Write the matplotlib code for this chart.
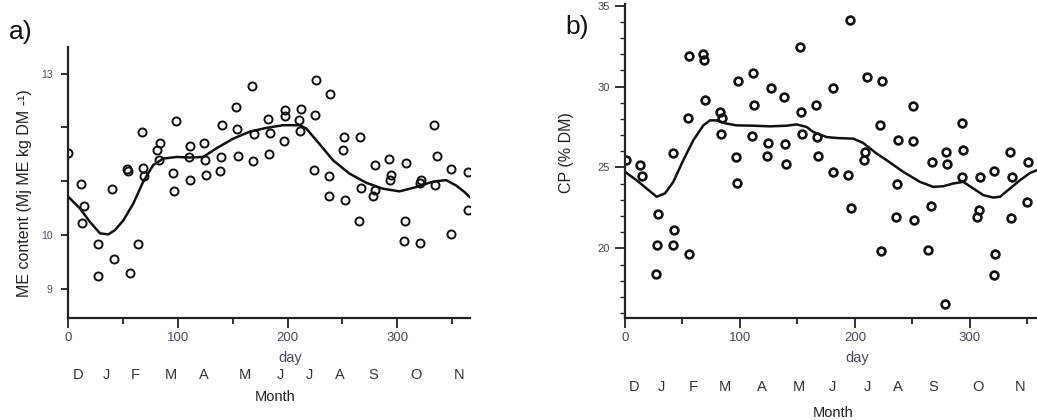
import matplotlib
matplotlib.use("Agg")
import matplotlib.pyplot as plt
from matplotlib.ticker import MultipleLocator, FixedLocator, NullFormatter
import matplotlib.transforms as mtransforms

# ---------------- data ----------------
months = ["D", "J", "F", "M", "A", "M", "J", "J", "A", "S", "O", "N"]
month_day_a = [9, 35, 61.5, 93.5, 124, 161, 193.5, 220, 248, 277.5, 317, 356]
month_day_b = [8, 32, 59, 87, 119, 151, 180.6, 210.4, 237, 268, 306.7, 343.5]

me_day = [0.6, 12.1, 14.8, 12.7, 27.2, 27.2, 40.3, 42.1, 53.6, 54.5, 56.6, 63.6,
          67.8, 68.7, 69.3, 81.1, 84.2, 82.7, 98.1, 96.0, 96.9, 111.0, 110.5, 111.7,
          124.1, 125.3, 126.2, 140.8, 139.6, 138.4, 153.5, 154.4, 155.0, 168.0, 169.8,
          168.9, 182.3, 183.8, 183.2, 198.0, 197.4, 196.5, 212.5, 210.4, 211.0, 225.5,
          225.0, 223.7, 238.9, 237.4, 237.7, 251.3, 250.4, 252.2, 265.5, 266.4, 264.6,
          279.4, 280.0, 278.2, 292.2, 294.0, 292.8, 307.9, 306.7, 305.8, 321.5, 320.9,
          320.9, 333.6, 335.8, 334.5, 349.1, 348.5, 364.0, 364.2]
me_val = [11.53, 10.94, 10.54, 10.22, 9.83, 9.23, 10.86, 9.56, 11.23, 11.19, 9.30, 9.84,
          11.92, 11.25, 11.10, 11.58, 11.71, 11.39, 12.12, 11.15, 10.82, 11.66, 11.44, 11.02,
          11.71, 11.39, 11.12, 12.04, 11.44, 11.19, 12.38, 11.97, 11.46, 12.77, 11.87,
          11.38, 12.16, 11.90, 11.50, 12.32, 12.22, 11.74, 12.35, 12.13, 11.93, 12.88,
          12.23, 11.21, 12.62, 11.09, 10.72, 11.82, 11.57, 10.65, 11.82, 10.88, 10.26,
          11.30, 10.84, 10.73, 11.41, 11.12, 11.02, 11.34, 10.26, 9.89, 11.02, 10.97,
          9.85, 12.05, 11.46, 10.92, 11.22, 10.01, 11.17, 10.47]

me_fit_day = [0, 11.2, 20.3, 29.4, 36.9, 43, 50.6, 59.6, 68.7, 77.8, 86.9, 99, 111.1,
              123.2, 135.3, 150.5, 165.6, 180.7, 195.9, 211, 217, 226.2, 241.3, 256.4,
              271.6, 286.7, 301.8, 317, 332.1, 344.2, 353.3, 360.9, 365.4]
me_fit_val = [10.72, 10.49, 10.24, 10.03, 10.01, 10.09, 10.27, 10.58, 10.99, 11.30, 11.42,
              11.45, 11.44, 11.45, 11.61, 11.79, 11.92, 11.99, 12.04, 12.04, 11.98, 11.76,
              11.39, 11.14, 10.97, 10.86, 10.81, 10.89, 10.99, 11.02, 10.92, 10.80, 10.71]

cp_day = [0.9, 13.0, 14.5, 28.4, 27.5, 27.0, 41.4, 42.6, 42.0, 55.1, 55.9, 55.9, 67.8,
          69.0, 69.9, 82.6, 84.1, 83.5, 98.6, 96.5, 97.7, 111.3, 112.5, 110.7, 126.7,
          124.6, 123.8, 138.3, 139.1, 139.7, 152.2, 153.0, 154.2, 165.8, 166.7, 168.1,
          181.2, 181.2, 195.7, 194.2, 196.2, 210.1, 209.0, 208.1, 223.8, 221.7, 222.6,
          237.1, 236.2, 235.4, 250.7, 250.1, 251.6, 266.7, 266.1, 263.2, 279.1, 280.3,
          278.3, 292.8, 294.2, 293.3, 308.7, 307.8, 306.4, 320.9, 321.7, 321.2, 334.8,
          336.2, 335.7, 350.7, 349.9]
cp_val = [25.45, 25.18, 24.46, 22.12, 20.21, 18.40, 25.90, 21.13, 20.21, 28.08, 31.90,
          19.63, 32.02, 31.61, 29.19, 28.43, 28.08, 27.09, 30.36, 25.65, 24.01, 30.85,
          28.84, 26.93, 29.90, 26.51, 25.69, 29.35, 26.47, 25.24, 32.47, 28.40, 27.09,
          28.84, 26.88, 25.69, 29.90, 24.73, 34.14, 24.54, 22.47, 30.62, 25.96, 25.49,
          30.36, 27.60, 19.84, 26.68, 23.95, 21.95, 28.82, 26.64, 21.75, 25.34, 22.61,
          19.90, 25.96, 25.24, 16.57, 27.75, 26.10, 24.38, 24.38, 22.40, 21.95, 24.79,
          19.65, 18.36, 25.96, 24.42, 21.89, 25.34, 22.88]

cp_fit_day = [0, 10.1, 18.8, 27.5, 34.8, 42, 50.7, 59.4, 68.1, 73.9, 79.7, 88.4, 97.1,
              111.6, 126.1, 140.6, 149.3, 158, 163.8, 175.4, 184.1, 198.6, 207.2, 218.8,
              227.5, 242, 256.5, 268.1, 276.8, 285.5, 294.2, 302.9, 311.6, 320.3, 326.1,
              334.8, 343.5, 352.2, 358.3]
cp_fit_val = [24.73, 24.21, 23.70, 23.19, 23.40, 24.11, 25.45, 26.68, 27.60, 27.91, 27.91,
              27.71, 27.60, 27.58, 27.54, 27.58, 27.66, 27.50, 27.19, 26.88, 26.82, 26.78,
              26.51, 25.86, 25.45, 24.73, 24.11, 23.80, 23.84, 24.01, 24.11, 23.70, 23.29,
              23.14, 23.19, 23.70, 24.21, 24.66, 24.83]

a_yticks = [9, 10, 11, 12, 13]
a_ylabels = ["9", "10", "", "", "13"]
x_major = [0, 100, 200, 300]
x_minor = [50, 150, 250, 350]

# ---------------- figure ----------------
W, H = 1037, 420
fig = plt.figure(figsize=(W / 100, H / 100), dpi=100)
fig.patch.set_facecolor("white")

TICKC = "#4a4a5c"
narrow = ["Liberation Sans Narrow", "Liberation Sans", "DejaVu Sans"]
sans = ["Liberation Sans", "DejaVu Sans"]


def px_axes(l, r, t, b):
    return fig.add_axes([l / W, 1 - b / H, (r - l) / W, (b - t) / H])


def style(ax):
    for s in ("top", "right"):
        ax.spines[s].set_visible(False)
    for s in ("left", "bottom"):
        ax.spines[s].set_linewidth(1.6)
        ax.spines[s].set_color("#222222")
    ax.xaxis.set_major_locator(FixedLocator(x_major))
    ax.xaxis.set_minor_locator(FixedLocator(x_minor))
    ax.xaxis.set_minor_formatter(NullFormatter())
    ax.tick_params(axis="x", which="major", direction="out", length=7, width=1.3,
                   colors="#222222", labelcolor=TICKC, labelsize=9.5, pad=3)
    ax.tick_params(axis="x", which="minor", direction="out", length=4, width=1.3,
                   colors="#222222")
    for lab in ax.get_xticklabels():
        lab.set_family(narrow)


# ---- panel a ----
axa = px_axes(67.7, 470, 46.7, 318.3)
style(axa)
axa.plot(me_day, me_val, "o", ms=5.8, mfc="none", mec="#111111", mew=1.4)
axa.plot(me_fit_day, me_fit_val, "-", color="#111111", lw=1.8)
axa.set_xlim(0, 366)
axa.set_ylim(8.45, 13.5)
axa.set_yticks(a_yticks)
axa.set_yticklabels(a_ylabels)
axa.tick_params(axis="y", direction="out", length=5, width=1.3, colors="#222222",
                labelcolor=TICKC, labelsize=7.5, pad=6)
for lab in axa.get_yticklabels() + axa.get_xticklabels():
    lab.set_family(narrow)
axa.set_ylabel("ME content (Mj ME kg DM -¹)", fontsize=11.5, color="#222222",
               family=sans)
axa.yaxis.set_label_coords((32 - 67.7) / 402.3, (318.3 - 193) / 271.6)

# ---- panel b ----
axb = px_axes(625, 1037, 4, 318.3)
style(axb)
axb.plot(cp_day, cp_val, "o", ms=5.6, mfc="none", mec="#111111", mew=1.9)
axb.plot(cp_fit_day, cp_fit_val, "-", color="#111111", lw=1.8)
axb.set_xlim(0, 358.3)
axb.set_ylim(15.68, 35.1)
axb.yaxis.set_major_locator(MultipleLocator(5))
axb.yaxis.set_minor_locator(MultipleLocator(1))
axb.tick_params(axis="y", which="major", direction="out", length=7, width=1.3,
                colors="#222222", labelcolor=TICKC, labelsize=8, pad=4)
axb.tick_params(axis="y", which="minor", direction="out", length=3.5, width=1.0,
                colors="#222222")
for lab in axb.get_yticklabels() + axb.get_xticklabels():
    lab.set_family(narrow)
axb.set_ylabel("CP (% DM)", fontsize=11.5, color="#222222", family=sans)
axb.yaxis.set_label_coords((574 - 625) / 412, (318.3 - 153) / 314.3)

# ---- month rows and labels ----
def months_row(ax, days, ypx):
    tr = mtransforms.blended_transform_factory(ax.transData, fig.transFigure)
    for d, m in zip(days, months):
        ax.text(d, 1 - ypx / H, m, transform=tr, ha="center", va="center",
                fontsize=10.5, color="#333333", family=sans, clip_on=False)


months_row(axa, month_day_a, 375)
months_row(axb, month_day_b, 387)

fig.text(290 / W, 1 - 358 / H, "day", ha="center", va="center", fontsize=10.5,
         color=TICKC, family=narrow)
fig.text(275 / W, 1 - 397 / H, "Month", ha="center", va="center", fontsize=10.5,
         color="#222222", family=narrow)
fig.text(857 / W, 1 - 358 / H, "day", ha="center", va="center", fontsize=10.5,
         color=TICKC, family=narrow)
fig.text(833 / W, 1 - 413 / H, "Month", ha="center", va="center", fontsize=10.5,
         color="#222222", family=narrow)

fig.text(9 / W, 1 - 32 / H, "a)", ha="left", va="center", fontsize=19,
         color="#111111", family=sans)
fig.text(565 / W, 1 - 27 / H, "b)", ha="left", va="center", fontsize=19,
         color="#111111", family=sans)

fig.savefig("out.png", dpi=100, facecolor="white")
